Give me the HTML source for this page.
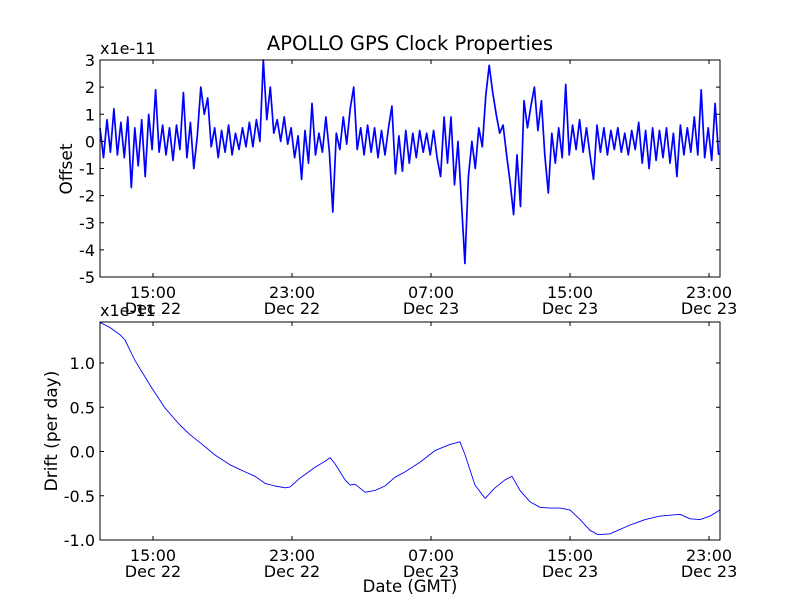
<!DOCTYPE html>
<html><head><meta charset="utf-8"><style>
html,body{margin:0;padding:0;background:#fff;}
svg{display:block;font-family:"DejaVu Sans","Liberation Sans",sans-serif;}
</style></head><body>
<svg id="chart" width="800" height="600" viewBox="0 0 800 600" xmlns="http://www.w3.org/2000/svg">
<rect width="800" height="600" fill="#fff"/>
<text x="410" y="50" font-size="19.5" text-anchor="middle">APOLLO GPS Clock Properties</text>
<g id="topPanel"></g>
<g id="botPanel"></g>
<text x="72" y="169" font-size="17" text-anchor="middle" transform="rotate(-90 72 169)">Offset</text>
<text x="57" y="431" font-size="17" text-anchor="middle" transform="rotate(-90 57 431)">Drift (per day)</text>
<text x="410" y="592" font-size="16.5" text-anchor="middle">Date (GMT)</text>
</svg>
<script>
// ---- data ----
const xTickHours = [15, 23, 31, 39, 47];
const xTickTimes = ["15:00", "23:00", "07:00", "15:00", "23:00"];
const xTickDates = ["Dec 22", "Dec 22", "Dec 23", "Dec 23", "Dec 23"];
const offsetTicks = [3, 2, 1, 0, -1, -2, -3, -4, -5];
const driftTicks = [1.0, 0.5, 0.0, -0.5, -1.0];
const offsetStartHour = 11.95;
const offsetStepHour = 0.2;
const offsetValues = [0.5,-0.6,0.8,-0.4,1.2,-0.5,0.7,-0.6,0.9,-1.7,0.5,-0.9,0.8,-1.3,1.0,-0.3,1.9,-0.4,0.6,-0.5,
0.5,-0.7,0.6,-0.3,1.8,-0.6,0.7,-1.0,0.2,2.0,1.0,1.6,-0.2,0.5,-0.6,0.4,-0.4,0.6,-0.5,0.3,
-0.3,0.5,-0.2,0.7,-0.2,0.8,0.0,3.0,0.8,2.0,0.3,0.8,0.0,0.9,-0.1,0.5,-0.6,0.2,-1.4,0.4,
-0.8,1.4,-0.5,0.3,-0.4,0.9,-0.4,-2.6,0.3,-0.3,0.9,-0.1,1.2,2.0,-0.3,0.5,-0.5,0.6,-0.4,0.5,
-0.6,0.4,-0.5,0.5,1.3,-1.2,0.2,-1.1,0.4,-0.8,0.3,-0.6,0.4,-0.4,0.3,-0.5,0.4,-0.6,-1.3,0.9,
-0.8,0.9,-1.6,0.0,-2.2,-4.5,-1.3,0.0,-1.0,0.5,-0.2,1.7,2.8,1.8,1.0,0.3,0.6,-0.5,-1.5,-2.7,
-0.5,-2.4,1.5,0.5,1.3,2.0,0.4,1.5,-0.5,-1.9,0.3,-0.8,0.5,-0.6,2.1,-0.5,0.6,-0.3,0.8,-0.4,
0.5,-0.5,-1.4,0.6,-0.4,0.5,-0.5,0.4,-0.3,0.5,-0.4,0.3,-0.5,0.4,-0.3,0.7,-0.8,0.4,-1.0,0.5,
-0.7,0.4,-0.6,0.5,-0.8,0.3,-1.3,0.6,-0.5,0.5,-0.4,0.9,-0.5,1.9,-0.6,0.5,-0.7,1.4,-0.5];
const driftHours = [11.95,12.53,13.10,13.39,13.96,14.83,15.69,16.55,17.13,17.71,18.57,19.43,20.30,20.87,21.45,22.02,22.60,22.89,23.46,24.32,24.90,25.19,25.48,26.05,26.34,26.63,27.20,27.78,28.35,28.93,29.50,30.37,31.23,32.09,32.67,32.96,33.53,34.11,34.68,35.26,35.66,36.12,36.70,37.27,37.85,38.42,39.00,39.58,40.15,40.61,41.30,42.45,43.32,44.18,44.76,45.33,45.91,46.48,47.06,47.63];
const driftValues = [1.46,1.40,1.32,1.26,1.03,0.75,0.49,0.30,0.19,0.10,-0.04,-0.15,-0.23,-0.28,-0.36,-0.39,-0.41,-0.40,-0.30,-0.18,-0.11,-0.07,-0.14,-0.32,-0.38,-0.37,-0.46,-0.44,-0.39,-0.29,-0.23,-0.12,0.01,0.08,0.11,-0.04,-0.38,-0.53,-0.41,-0.32,-0.28,-0.44,-0.57,-0.63,-0.64,-0.64,-0.66,-0.77,-0.89,-0.94,-0.93,-0.83,-0.77,-0.73,-0.72,-0.71,-0.76,-0.77,-0.73,-0.66];

// ---- axes ----
const X0 = 100, X1 = 720, H0 = 11.95, H1 = 47.63;
const xs = h => X0 + (h - H0) / (H1 - H0) * (X1 - X0);
const topY0 = 60, topY1 = 277, topMax = 3, topMin = -5;
const ysTop = v => topY0 + (topMax - v) / (topMax - topMin) * (topY1 - topY0);
const botY0 = 322, botY1 = 540, botMax = 1.4633, botMin = -1.0;
const ysBot = v => botY0 + (botMax - v) / (botMax - botMin) * (botY1 - botY0);
const NS = "http://www.w3.org/2000/svg";
function mk(tag, attrs, parent, txt) {
  const e = document.createElementNS(NS, tag);
  for (const k in attrs) e.setAttribute(k, attrs[k]);
  if (txt !== undefined) e.textContent = txt;
  parent.appendChild(e);
  return e;
}
function panel(g, y0, y1, ticks, ys, fmt, name) {
  for (let i = 0; i < xTickHours.length; i++) {
    const x = xs(xTickHours[i]);
    const t1 = mk("line", {x1: x, x2: x, y1: y1, y2: y1 - 4, stroke: "#000"}, g);
    
    
    const t2 = mk("line", {x1: x, x2: x, y1: y0, y2: y0 + 4, stroke: "#000"}, g);
    
    
    const a = mk("text", {x: x, y: y1 + 21, "font-size": 16, "text-anchor": "middle"}, g, xTickTimes[i]);
    
    
    const b = mk("text", {x: x, y: y1 + 37, "font-size": 16, "text-anchor": "middle"}, g, xTickDates[i]);
    
    
  }
  for (const v of ticks) {
    const y = ys(v);
    const l1 = mk("line", {x1: X0, x2: X0 + 4, y1: y, y2: y, stroke: "#000"}, g);
    
    
    const l2 = mk("line", {x1: X1, x2: X1 - 4, y1: y, y2: y, stroke: "#000"}, g);
    
    
    const t = mk("text", {x: X0 - 5, y: y + 6, "font-size": 16, "text-anchor": "end"}, g, fmt(v));
    
    
  }
  const fr = mk("rect", {x: X0, y: y0, width: X1 - X0, height: y1 - y0, fill: "none", stroke: "#000", "stroke-width": 1}, g);
  
  
  const ex = mk("text", {x: X0, y: y0 - 6, "font-size": 16}, g, "x1e-11");
  
  
}
const topG = document.getElementById("topPanel"), botG = document.getElementById("botPanel");
let d = "";
offsetValues.forEach((v, i) => {
  const h = offsetStartHour + i * offsetStepHour;
  d += (i ? "L" : "M") + xs(h).toFixed(1) + " " + ysTop(v).toFixed(1);
});
const p1 = mk("path", {d: d, fill: "none", stroke: "#0000ff", "stroke-width": 1.7, "stroke-linejoin": "round"}, topG);


d = "";
driftValues.forEach((v, i) => {
  d += (i ? "L" : "M") + xs(driftHours[i]).toFixed(1) + " " + ysBot(v).toFixed(1);
});
const p2 = mk("path", {d: d, fill: "none", stroke: "#0000ff", "stroke-width": 0.9, "stroke-linejoin": "round"}, botG);


panel(topG, topY0, topY1, offsetTicks, ysTop, v => String(v), "offset");
panel(botG, botY0, botY1, driftTicks, ysBot, v => v.toFixed(1), "drift");
</script>
</body></html>
